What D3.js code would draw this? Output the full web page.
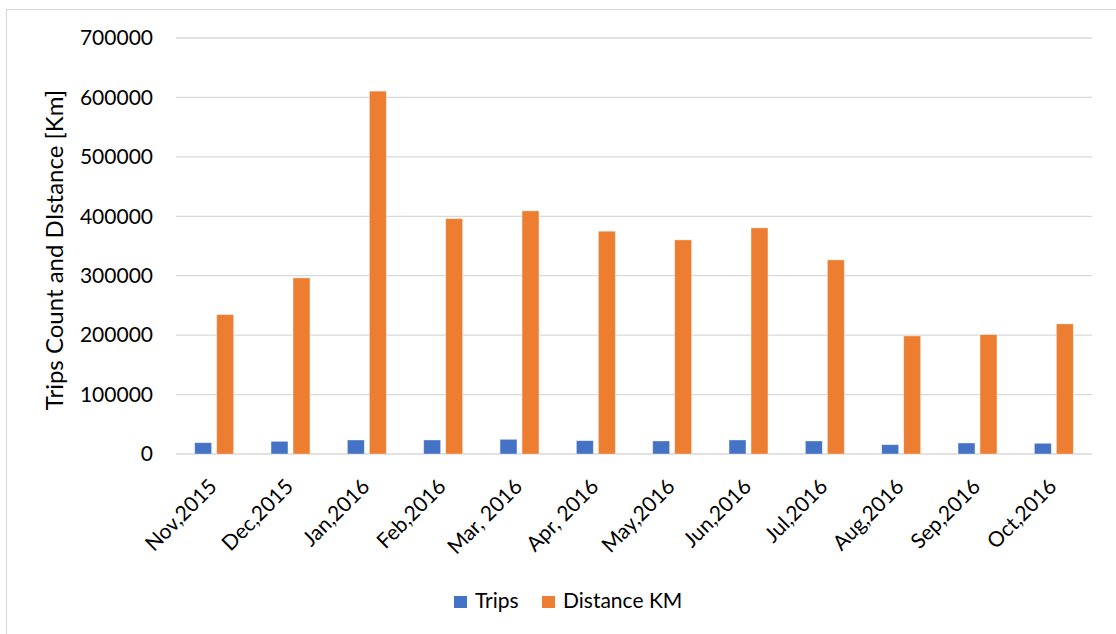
<!DOCTYPE html>
<html>
<head>
<meta charset="utf-8">
<script src="https://cdn.jsdelivr.net/npm/d3@7"></script>
<style>
  html, body { margin: 0; padding: 0; background: #ffffff; }
  svg { display: block; font-family: Lato, "Liberation Sans", sans-serif; }
</style>
</head>
<body>
<svg id="chart" width="1116" height="634"></svg>
<script>
// Monthly trip counts and distance travelled
const months = ["Nov,2015", "Dec,2015", "Jan,2016", "Feb,2016", "Mar, 2016", "Apr, 2016",
                "May,2016", "Jun,2016", "Jul,2016", "Aug,2016", "Sep,2016", "Oct,2016"];
const trips = [19000, 21300, 23600, 23600, 24700, 22400, 21900, 23600, 21900, 15700, 18500, 18000];
const distanceKm = [234500, 296300, 610600, 396100, 409100, 374900, 360300, 380500, 326600, 198700, 200900, 218900];
const seriesNames = ["Trips", "Distance KM"];
const seriesColors = ["#4472c4", "#ed7d31"];
const yTicks = [0, 100000, 200000, 300000, 400000, 500000, 600000, 700000];
const yTitle = "Trips Count and DIstance [Km]";

const svg = d3.select("#chart");
const W = 1116, H = 634;
const plot = { left: 176, right: 1092, top: 38, bottom: 454 };

// outer chart-area frame
svg.append("rect")
  .attr("x", 6.5).attr("y", 9.5)
  .attr("width", W + 20).attr("height", H + 20)
  .attr("fill", "#ffffff")
  .attr("stroke", "#d9d9d9").attr("stroke-width", 1);

const x0 = d3.scaleBand().domain(months).range([plot.left, plot.right]).paddingInner(0).paddingOuter(0);
const bw = x0.bandwidth();
const x1 = d3.scaleBand().domain(seriesNames).range([bw * 0.245, bw * 0.755]).paddingInner(0.23);
const y = d3.scaleLinear().domain([0, 700000]).range([plot.bottom, plot.top]);

// horizontal gridlines
svg.append("g")
  .selectAll("line")
  .data(yTicks)
  .join("line")
  .attr("x1", plot.left).attr("x2", plot.right)
  .attr("y1", d => y(d)).attr("y2", d => y(d))
  .attr("stroke", "#d9d9d9").attr("stroke-width", 1.3);

// y axis labels
const yAxis = d3.axisLeft(y).tickValues(yTicks).tickFormat(d3.format("d")).tickSize(0).tickPadding(0);
const yg = svg.append("g").attr("transform", `translate(${plot.left - 23},0)`).call(yAxis);
yg.select(".domain").remove();
yg.selectAll("text")
  .attr("font-size", 21).attr("fill", "#000000")
  .attr("font-family", "Lato, 'Liberation Sans', sans-serif");

// y axis title
svg.append("text")
  .attr("transform", "translate(63,250) rotate(-90)")
  .attr("text-anchor", "middle")
  .attr("font-size", 24)
  .attr("fill", "#000000")
  .text(yTitle);

// bars
const rows = months.map((m, i) => ({ month: m, values: [trips[i], distanceKm[i]] }));
const groups = svg.append("g")
  .selectAll("g")
  .data(rows)
  .join("g")
  .attr("transform", d => `translate(${x0(d.month)},0)`);

groups.selectAll("rect")
  .data(d => d.values.map((v, k) => ({ name: seriesNames[k], value: v, color: seriesColors[k] })))
  .join("rect")
  .attr("x", d => x1(d.name))
  .attr("width", x1.bandwidth())
  .attr("y", d => y(d.value))
  .attr("height", d => y(0) - y(d.value))
  .attr("fill", d => d.color)
  .attr("stroke", "#ffffff").attr("stroke-opacity", 0.5).attr("stroke-width", 0.75);

// x axis labels
const xAxis = d3.axisBottom(x0).tickSize(0).tickPadding(0);
const xg = svg.append("g").attr("transform", `translate(0,${plot.bottom})`).call(xAxis);
xg.select(".domain").remove();
xg.selectAll("text")
  .attr("font-size", 21).attr("fill", "#000000")
  .attr("font-family", "Lato, 'Liberation Sans', sans-serif")
  .attr("text-anchor", "end")
  .attr("dy", null)
  .attr("y", 0)
  .attr("transform", "translate(4,34) rotate(-45)");

// legend
const legendItems = [
  { name: seriesNames[0], color: seriesColors[0], x: 454 },
  { name: seriesNames[1], color: seriesColors[1], x: 542 }
];
const lg = svg.append("g").selectAll("g").data(legendItems).join("g")
  .attr("transform", d => `translate(${d.x},596)`);
lg.append("rect").attr("width", 13).attr("height", 12).attr("fill", d => d.color);
lg.append("text")
  .attr("x", 21).attr("y", 12)
  .attr("font-size", 21).attr("fill", "#000000")
  .text(d => d.name);
</script>
</body>
</html>
